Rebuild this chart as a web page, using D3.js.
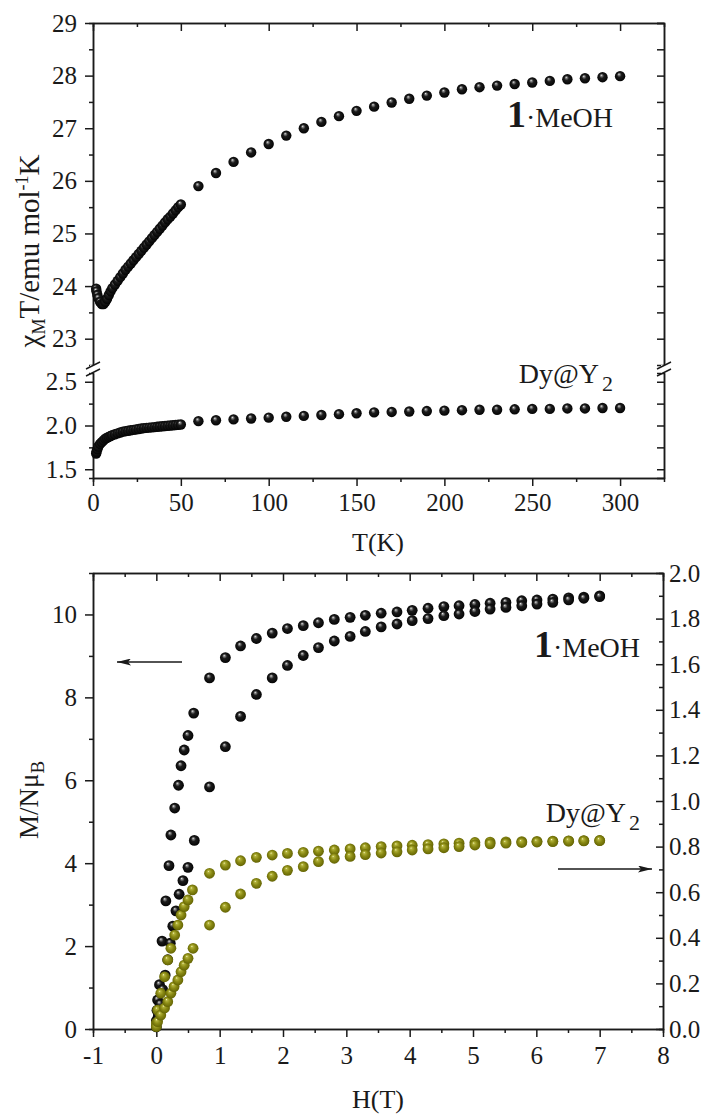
<!DOCTYPE html>
<html>
<head>
<meta charset="utf-8">
<script src="https://cdn.jsdelivr.net/npm/d3@7"></script>
<style>
body { margin: 0; background: #fff; }
svg text { font-family: "Liberation Serif", "Times New Roman", serif; fill: #1a1a1a; }
</style>
</head>
<body>
<div id="chart"></div>
<script>
// ---- top panel data: chiM*T vs T ----
var tempK = [1.8, 2, 2.5, 3, 4, 5, 6, 7, 8, 9, 10, 11, 12.5, 14, 15.5, 17, 18.5, 20, 21.5, 23, 24.5,
    26, 27.5, 29, 30.5, 32, 33.5, 35, 36.5, 38, 39.5, 41, 42.5, 44, 45.5, 47, 48.5, 50,
    60, 70, 80, 90, 100, 110, 120, 130, 140, 150, 160, 170, 180, 190, 200, 210, 220, 230, 240,
    250, 260, 270, 280, 290, 300];
var chiTMeOH = [23.95, 23.9, 23.83, 23.77, 23.7, 23.66, 23.66, 23.7, 23.76, 23.83, 23.9, 23.96, 24.03,
    24.10, 24.17, 24.24, 24.31, 24.37, 24.43, 24.49, 24.55, 24.61, 24.67, 24.73, 24.79, 24.85, 24.91,
    24.97, 25.03, 25.09, 25.15, 25.21, 25.27, 25.32, 25.38, 25.44, 25.50, 25.55,
    25.9, 26.15, 26.36, 26.54, 26.7, 26.86, 27.0, 27.12, 27.23, 27.33, 27.41, 27.49, 27.56, 27.62,
    27.68, 27.74, 27.78, 27.81, 27.84, 27.87, 27.9, 27.93, 27.95, 27.97, 27.99];
var chiTDy = [1.68, 1.7, 1.73, 1.76, 1.79, 1.81, 1.83, 1.85, 1.86, 1.87, 1.88, 1.89, 1.9, 1.91, 1.92,
    1.93, 1.935, 1.94, 1.945, 1.95, 1.955, 1.96, 1.965, 1.97, 1.973, 1.976, 1.979, 1.982, 1.985, 1.988,
    1.991, 1.994, 1.997, 2.0, 2.003, 2.006, 2.009, 2.012,
    2.05, 2.06, 2.07, 2.08, 2.09, 2.1, 2.11, 2.12, 2.13, 2.14, 2.15, 2.155, 2.16, 2.165, 2.17, 2.175,
    2.18, 2.18, 2.185, 2.19, 2.19, 2.195, 2.195, 2.2, 2.2];

// ---- bottom panel data: M vs H ----
var fieldHigh = [0.84, 1.09, 1.33, 1.58, 1.83, 2.07, 2.32, 2.56, 2.81, 3.06, 3.30, 3.55, 3.80, 4.04,
    4.29, 4.54, 4.78, 5.03, 5.27, 5.52, 5.77, 6.01, 6.26, 6.51, 6.75, 7.0];

var fieldMeOHa = [0, 0.01, 0.02, 0.05, 0.09, 0.15, 0.2, 0.23, 0.29, 0.35, 0.39, 0.44, 0.5, 0.59];
var magMeOHaLow = [0.2, 0.45, 0.7, 1.07, 2.12, 3.09, 3.94, 4.68, 5.33, 5.88, 6.35, 6.73, 7.08, 7.62];
var magMeOHaHigh = [8.47, 8.96, 9.24, 9.42, 9.55, 9.66, 9.73, 9.80, 9.88, 9.93, 9.98, 10.03, 10.06, 10.1,
    10.15, 10.19, 10.21, 10.24, 10.27, 10.29, 10.33, 10.35, 10.37, 10.4, 10.42, 10.45];

var fieldMeOHb = [0, 0.03, 0.06, 0.1, 0.14, 0.18, 0.22, 0.26, 0.31, 0.36, 0.42, 0.5, 0.6];
var magMeOHbLow = [0.05, 0.3, 0.6, 0.95, 1.3, 1.67, 2.07, 2.48, 2.85, 3.25, 3.58, 3.9, 4.55];
var magMeOHbHigh = [5.84, 6.81, 7.54, 8.07, 8.47, 8.77, 9.01, 9.2, 9.36, 9.47, 9.59, 9.7, 9.77, 9.85,
    9.9, 9.97, 10.01, 10.07, 10.13, 10.17, 10.21, 10.25, 10.29, 10.35, 10.39, 10.43];

var fieldDya = [0, 0.02, 0.07, 0.13, 0.18, 0.23, 0.29, 0.34, 0.39, 0.44, 0.5, 0.57];
var magDyaLow = [0.026, 0.083, 0.157, 0.229, 0.303, 0.354, 0.412, 0.456, 0.5, 0.537, 0.566, 0.61];
var magDyaHigh = [0.683, 0.719, 0.738, 0.753, 0.763, 0.77, 0.775, 0.78, 0.785, 0.79, 0.795, 0.80, 0.803,
    0.806, 0.809, 0.812, 0.815, 0.818, 0.82, 0.821, 0.822, 0.823, 0.824, 0.825, 0.826, 0.827];

var fieldDyb = [0, 0.02, 0.07, 0.13, 0.18, 0.23, 0.28, 0.34, 0.39, 0.44, 0.5, 0.58];
var magDybLow = [0.01, 0.032, 0.061, 0.092, 0.12, 0.157, 0.186, 0.215, 0.251, 0.28, 0.31, 0.354];
var magDybHigh = [0.456, 0.534, 0.592, 0.639, 0.67, 0.696, 0.712, 0.734, 0.749, 0.757, 0.765, 0.772,
    0.777, 0.785, 0.79, 0.795, 0.80, 0.807, 0.812, 0.815, 0.818, 0.82, 0.822, 0.824, 0.825, 0.826];

// tick labels
var tTicks = [0, 50, 100, 150, 200, 250, 300];
var chiUpperTicks = [23, 24, 25, 26, 27, 28, 29];
var chiLowerTicks = [1.5, 2.0, 2.5];
var hTicks = [-1, 0, 1, 2, 3, 4, 5, 6, 7, 8];
var mLeftTicks = [0, 2, 4, 6, 8, 10];
var mRightTicks = [0, 0.2, 0.4, 0.6, 0.8, 1.0, 1.2, 1.4, 1.6, 1.8, 2.0];

var svgWidth = 710;
var svgHeight = 1117;
var ink = "#1a1a1a";

var svg = d3.select("#chart")
    .append("svg")
    .attr("width", svgWidth)
    .attr("height", svgHeight);

// shiny ball markers
var defs = svg.append("defs");
function ball(id, stops) {
    var g = defs.append("radialGradient")
        .attr("id", id)
        .attr("cx", 0.5).attr("cy", 0.5).attr("r", 0.55)
        .attr("fx", 0.38).attr("fy", 0.3);
    stops.forEach(function (s) {
        g.append("stop").attr("offset", s[0]).attr("stop-color", s[1]);
    });
}
ball("ballBlack", [["0%", "#f4f4f4"], ["14%", "#8a8a8a"], ["40%", "#1c1c1c"], ["100%", "#000"]]);
ball("ballOlive", [["0%", "#fbfbd0"], ["16%", "#b4b43c"], ["50%", "#8a8a14"], ["100%", "#5e5e00"]]);

function zip(xs, ys) {
    return xs.map(function (x, i) { return { x: x, y: ys[i] }; });
}

function styleAxis(g) {
    g.attr("font-family", null).attr("font-size", null);
    g.selectAll("path, line").attr("stroke", ink).attr("stroke-width", 1.5);
    g.selectAll("text").style("font-size", "25px").attr("fill", ink);
}

function drawAxis(x0, y0, axis) {
    var g = svg.append("g")
        .attr("transform", `translate(${x0}, ${y0})`)
        .call(axis);
    styleAxis(g);
    return g;
}

var plain = d => String(d);

// ===================== top panel =====================
var xT = d3.scaleLinear().domain([0, 325]).range([93, 664]);
var yUp = d3.scaleLinear().domain([22.5, 29]).range([365, 23]);
var yLo = d3.scaleLinear().domain([1.4, 2.6]).range([478, 373]);

// bottom x axis
drawAxis(0, 478, d3.axisBottom(xT).tickValues(tTicks).tickSize(8).tickSizeOuter(0).tickPadding(7).tickFormat(plain));
drawAxis(0, 478, d3.axisBottom(xT).tickValues([25, 75, 125, 175, 225, 275]).tickSize(4).tickFormat(""));
// top mirror (ticks inward)
drawAxis(0, 23, d3.axisBottom(xT).tickValues(tTicks).tickSize(8).tickSizeOuter(0).tickFormat(""));
drawAxis(0, 23, d3.axisBottom(xT).tickValues([25, 75, 125, 175, 225, 275]).tickSize(4).tickFormat(""));

// left broken axis
var upMinor = [23.5, 24.5, 25.5, 26.5, 27.5, 28.5];
var loMinor = [1.75, 2.25];
drawAxis(93, 0, d3.axisLeft(yUp).tickValues(chiUpperTicks).tickSize(8).tickSizeOuter(0).tickPadding(8).tickFormat(plain));
drawAxis(93, 0, d3.axisLeft(yUp).tickValues(upMinor).tickSize(4).tickFormat(""));
drawAxis(93, 0, d3.axisLeft(yLo).tickValues(chiLowerTicks).tickSize(8).tickSizeOuter(0)
    .tickPadding(8).tickFormat(d3.format(".1f")));
drawAxis(93, 0, d3.axisLeft(yLo).tickValues(loMinor).tickSize(4).tickFormat(""));
// right broken axis (ticks inward, no labels)
drawAxis(664, 0, d3.axisRight(yUp).tickValues(chiUpperTicks).tickSize(-7).tickSizeOuter(0).tickFormat(""));
drawAxis(664, 0, d3.axisRight(yUp).tickValues(upMinor).tickSize(-7).tickFormat(""));
drawAxis(664, 0, d3.axisRight(yLo).tickValues(chiLowerTicks).tickSize(-7).tickSizeOuter(0).tickFormat(""));
drawAxis(664, 0, d3.axisRight(yLo).tickValues(loMinor).tickSize(-7).tickFormat(""));

// break marks
[93, 664].forEach(function (bx) {
    var by = 369;
    svg.append("rect").attr("x", bx - 3).attr("y", by - 4).attr("width", 6).attr("height", 8).attr("fill", "#fff");
    [-3.5, 3.5].forEach(function (dy) {
        svg.append("line")
            .attr("x1", bx - 7).attr("y1", by + dy + 3.5)
            .attr("x2", bx + 7).attr("y2", by + dy - 3.5)
            .attr("stroke", ink).attr("stroke-width", 1.5);
    });
});

svg.append("g").selectAll("circle")
    .data(zip(tempK, chiTMeOH))
    .enter()
    .append("circle")
    .attr("cx", d => xT(d.x))
    .attr("cy", d => yUp(d.y))
    .attr("r", 5.2)
    .attr("fill", "url(#ballBlack)");

svg.append("g").selectAll("circle")
    .data(zip(tempK, chiTDy))
    .enter()
    .append("circle")
    .attr("cx", d => xT(d.x))
    .attr("cy", d => yLo(d.y))
    .attr("r", 5.2)
    .attr("fill", "url(#ballBlack)");

// axis titles
var yTitle = svg.append("text")
    .attr("transform", "translate(39, 251) rotate(-90)")
    .attr("text-anchor", "middle")
    .style("font-size", "29px");
yTitle.append("tspan").text("χ");
yTitle.append("tspan").attr("dy", 6).style("font-size", "18px").text("M");
yTitle.append("tspan").attr("dy", -6).text("T/emu mol");
yTitle.append("tspan").attr("dy", -11).style("font-size", "18px").text("-1");
yTitle.append("tspan").attr("dy", 11).text("K");

svg.append("text")
    .attr("x", 378).attr("y", 551)
    .attr("text-anchor", "middle")
    .style("font-size", "26px")
    .text("T(K)");

function meohLabel(xr, yb) {
    var t = svg.append("text")
        .attr("x", xr).attr("y", yb)
        .attr("text-anchor", "end");
    t.append("tspan").style("font-size", "38px").style("font-weight", "bold").text("1");
    t.append("tspan").style("font-size", "28px").text("·MeOH");
}
function dyLabel(xr, yb) {
    var t = svg.append("text")
        .attr("x", xr).attr("y", yb)
        .attr("text-anchor", "end");
    t.append("tspan").style("font-size", "28px").text("Dy@Y");
    t.append("tspan").attr("dy", 8).attr("dx", 3).style("font-size", "22px").text("2");
}
meohLabel(613, 127);
dyLabel(613, 383);

// ===================== bottom panel =====================
var xH = d3.scaleLinear().domain([-1, 8]).range([93, 663]);
var yM = d3.scaleLinear().domain([0, 11]).range([1029, 573]);
var yR = d3.scaleLinear().domain([0, 2]).range([1029, 573]);

var hMinor = [-0.5, 0.5, 1.5, 2.5, 3.5, 4.5, 5.5, 6.5, 7.5];
drawAxis(0, 1029, d3.axisBottom(xH).tickValues(hTicks).tickSize(8).tickSizeOuter(0).tickPadding(9).tickFormat(plain));
drawAxis(0, 1029, d3.axisBottom(xH).tickValues(hMinor).tickSize(4).tickFormat(""));
drawAxis(0, 573, d3.axisBottom(xH).tickValues(hTicks).tickSize(8).tickSizeOuter(0).tickFormat(""));
drawAxis(0, 573, d3.axisBottom(xH).tickValues(hMinor).tickSize(4).tickFormat(""));

drawAxis(93, 0, d3.axisLeft(yM).tickValues(mLeftTicks).tickSize(8).tickSizeOuter(0).tickPadding(8).tickFormat(plain));
drawAxis(93, 0, d3.axisLeft(yM).tickValues([1, 3, 5, 7, 9]).tickSize(4).tickFormat(""));

drawAxis(663, 0, d3.axisRight(yR).tickValues(mRightTicks).tickSize(-7).tickSizeOuter(0)
    .tickPadding(6).tickFormat(d3.format(".1f")));
drawAxis(663, 0, d3.axisRight(yR).tickValues([0.1, 0.3, 0.5, 0.7, 0.9, 1.1, 1.3, 1.5, 1.7, 1.9])
    .tickSize(-4).tickFormat(""));

function plotBalls(data, yScale, fill) {
    svg.append("g").selectAll("circle")
        .data(data)
        .enter()
        .append("circle")
        .attr("cx", d => xH(d.x))
        .attr("cy", d => yScale(d.y))
        .attr("r", 5.4)
        .attr("fill", fill);
}

plotBalls(zip(fieldMeOHa.concat(fieldHigh), magMeOHaLow.concat(magMeOHaHigh)), yM, "url(#ballBlack)");
plotBalls(zip(fieldMeOHb.concat(fieldHigh), magMeOHbLow.concat(magMeOHbHigh)), yM, "url(#ballBlack)");
plotBalls(zip(fieldDya.concat(fieldHigh), magDyaLow.concat(magDyaHigh)), yR, "url(#ballOlive)");
plotBalls(zip(fieldDyb.concat(fieldHigh), magDybLow.concat(magDybHigh)), yR, "url(#ballOlive)");

// arrows pointing at each axis
defs.append("marker")
    .attr("id", "head")
    .attr("viewBox", "0 0 14 7")
    .attr("refX", 14).attr("refY", 3.5)
    .attr("markerWidth", 14).attr("markerHeight", 7)
    .attr("markerUnits", "userSpaceOnUse")
    .attr("orient", "auto")
    .append("path")
    .attr("d", "M0,0 L14,3.5 L0,7 L3,3.5 Z")
    .attr("fill", ink);

svg.append("line")
    .attr("x1", 182).attr("y1", 662).attr("x2", 117).attr("y2", 662)
    .attr("stroke", ink).attr("stroke-width", 1.5)
    .attr("marker-end", "url(#head)");
svg.append("line")
    .attr("x1", 558).attr("y1", 869).attr("x2", 652).attr("y2", 869)
    .attr("stroke", ink).attr("stroke-width", 1.5)
    .attr("marker-end", "url(#head)");

var mTitle = svg.append("text")
    .attr("transform", "translate(38, 800) rotate(-90)")
    .attr("text-anchor", "middle")
    .style("font-size", "27px");
mTitle.append("tspan").text("M/Nμ");
mTitle.append("tspan").attr("dy", 6).style("font-size", "19px").text("B");

svg.append("text")
    .attr("x", 378).attr("y", 1108)
    .attr("text-anchor", "middle")
    .style("font-size", "26px")
    .text("H(T)");

meohLabel(640, 657);
dyLabel(640, 822);
</script>
</body>
</html>
